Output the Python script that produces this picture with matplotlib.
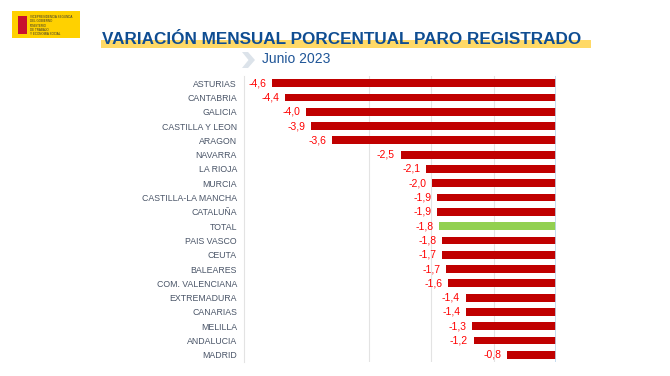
import matplotlib.pyplot as plt
from matplotlib.patches import Rectangle, Polygon

regiones = ['ASTURIAS', 'CANTABRIA', 'GALICIA', 'CASTILLA Y LEON', 'ARAGON', 'NAVARRA',
            'LA RIOJA', 'MURCIA', 'CASTILLA-LA MANCHA', 'CATALUÑA', 'TOTAL', 'PAIS VASCO',
            'CEUTA', 'BALEARES', 'COM. VALENCIANA', 'EXTREMADURA', 'CANARIAS', 'MELILLA',
            'ANDALUCIA', 'MADRID']
valores = [-4.6, -4.4, -4.0, -3.9, -3.6, -2.5, -2.1, -2.0, -1.9, -1.9, -1.8, -1.8,
           -1.7, -1.7, -1.6, -1.4, -1.4, -1.3, -1.2, -0.8]
# valores sin redondear (longitud de barra)
largos = [-4.55, -4.34, -4.0, -3.93, -3.59, -2.49, -2.08, -1.99, -1.9, -1.9, -1.87, -1.83,
          -1.82, -1.76, -1.73, -1.45, -1.44, -1.35, -1.32, -0.78]

plt.rcParams['font.family'] = ['Liberation Sans', 'DejaVu Sans']

fig = plt.figure(figsize=(6.7, 3.76), dpi=100)
ax = fig.add_axes([244/670, 1-362/376, 312/670, 286/376])

y = list(range(len(regiones)))
colores = ['#92D050' if r == 'TOTAL' else '#C00000' for r in regiones]
ax.barh(y, largos, height=0.55, color=colores, zorder=3)
for yi, v, l in zip(y, valores, largos):
    ax.text(l - 0.09, yi, f'{v:.1f}'.replace('.', ','), ha='right', va='center',
            color='#FF0000', fontsize=7.5, zorder=4)

ax.set_xlim(-5, 0)
ax.set_ylim(len(regiones) - 0.5, -0.5)
ax.set_yticks(y)
ax.set_yticklabels(regiones, fontsize=6.3, color='#4A5568')
ax.tick_params(axis='y', length=0, pad=5)
ax.set_xticks([])
for xg in [-3, -2, -1]:
    ax.axvline(xg, color='#E3E3E3', lw=0.8, zorder=1)
ax.axvline(0, color='#BDD7EE', lw=1.2, zorder=5)
for s in ['top', 'bottom', 'right']:
    ax.spines[s].set_visible(False)
ax.spines['left'].set_color('#E3E3E3')
ax.spines['left'].set_linewidth(0.8)

# logo
fig.patches.append(Rectangle((12/670, 1-38/376), 68/670, 27/376, transform=fig.transFigure,
                             facecolor='#FFD100', edgecolor='none'))
fig.patches.append(Rectangle((18/670, 1-34/376), 9/670, 18/376, transform=fig.transFigure,
                             facecolor='#C8102E', edgecolor='none'))
fig.text(30/670, 1-19/376, 'VICEPRESIDENCIA SEGUNDA\nDEL GOBIERNO', fontsize=2.2,
         color='#333333', va='center', linespacing=1.0)
fig.text(30/670, 1-30/376, 'MINISTERIO\nDE TRABAJO\nY ECONOMÍA SOCIAL', fontsize=2.2,
         color='#333333', va='center', linespacing=1.0)

# titulo
fig.patches.append(Rectangle((101/670, 1-48/376), 490/670, 8/376, transform=fig.transFigure,
                             facecolor='#FFD966', edgecolor='none'))
fig.text(342/670, 1-39/376, 'VARIACIÓN MENSUAL PORCENTUAL PARO REGISTRADO', ha='center',
         va='center', fontsize=12.3, fontweight='bold', color='#0F4D92')
fig.patches.append(Polygon([(242/670, 1-52/376), (248/670, 1-52/376), (255/670, 1-60/376),
                            (248/670, 1-68/376), (242/670, 1-68/376), (248.5/670, 1-60/376)],
                           closed=True, transform=fig.transFigure, facecolor='#DCE3EA',
                           edgecolor='none'))
fig.text(262/670, 1-59/376, 'Junio 2023', ha='left', va='center', fontsize=10,
         color='#1F5597')

fig.savefig('out.png', dpi=100)
